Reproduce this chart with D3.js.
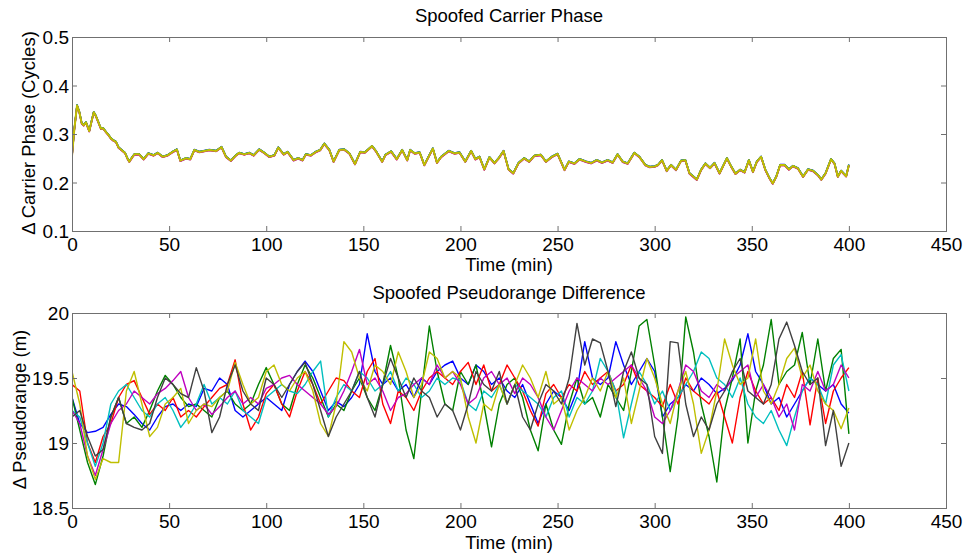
<!DOCTYPE html>
<html><head><meta charset="utf-8">
<script src="https://cdn.jsdelivr.net/npm/d3@7"></script>
<style>
html,body{margin:0;padding:0;background:#fff;}
svg text{font-family:"Liberation Sans",Arial,sans-serif;fill:#000;}
</style></head>
<body><svg id="chart" width="964" height="555"></svg>
<script>
// ---------- DATA ----------
const xTicks = [0,50,100,150,200,250,300,350,400,450];
const phaseTicks = [0.1,0.2,0.3,0.4,0.5];
const rangeTicks = [18.5,19,19.5,20];

const phaseTime = [0,1.2,2.6,3.8,5,6,7.2,8.9,10,11.2,12.2,13.2,14.9,16,17.5,18.8,20,21.2,22.6,24,25.2,27.3,28.5,29.5,31,32.1,34.6,36.9,39.3,42,44.1,46.7,49.2,51.8,54,55.8,58.7,60.9,63,65.6,68.2,70.7,74.2,77,79.3,81.8,84.4,86.1,88.7,91.3,93.5,96.4,99,101.6,104.2,106.2,109,111,114.1,116.5,118.7,120.4,123,125.5,127.8,129.9,132.5,134.7,137.6,140.2,142.8,145.7,148.4,150.8,154.5,156.6,159.7,161.4,164.3,167.2,170,172.6,174.1,176.4,179,181.4,184.1,185.8,187.9,190.1,194,196.9,199.5,202.5,205.5,207.7,209.8,212.3,214.9,217.5,219.7,222.2,224.8,227.2,229.9,232.8,235.4,238,241.4,244,247.1,250,253.6,255.8,258.7,261.3,264.7,267.3,270.2,272.9,275.8,278.4,280.9,283.5,286.1,289.5,292.1,295.2,297.4,300,301.7,303.8,306.2,308.4,311,313.6,315.8,317.9,321.7,323.9,326.1,328.5,330.8,333.4,337.2,339.4,341.6,344,346.3,348.5,350.6,352.6,354.8,357,359.1,360.8,362.6,364.6,366.9,369.1,371.2,373.8,376.4,379,381.5,384.1,385.8,388,390.8,392.6,394.3,396,398.6,400];
const phaseValue = [0.255,0.31,0.359,0.345,0.322,0.318,0.324,0.306,0.325,0.345,0.338,0.328,0.311,0.312,0.304,0.298,0.291,0.287,0.284,0.272,0.268,0.261,0.25,0.243,0.252,0.258,0.258,0.248,0.26,0.256,0.261,0.253,0.256,0.263,0.268,0.245,0.25,0.248,0.267,0.263,0.265,0.267,0.265,0.273,0.253,0.245,0.256,0.261,0.258,0.261,0.256,0.268,0.261,0.253,0.256,0.272,0.258,0.263,0.246,0.25,0.246,0.258,0.256,0.263,0.267,0.28,0.267,0.243,0.267,0.268,0.26,0.238,0.263,0.262,0.275,0.264,0.243,0.257,0.264,0.248,0.267,0.246,0.267,0.26,0.262,0.236,0.257,0.27,0.241,0.253,0.265,0.26,0.262,0.243,0.265,0.248,0.253,0.227,0.252,0.24,0.25,0.265,0.227,0.219,0.24,0.25,0.243,0.255,0.257,0.243,0.253,0.259,0.226,0.243,0.239,0.248,0.243,0.24,0.246,0.241,0.246,0.241,0.258,0.243,0.239,0.261,0.253,0.236,0.232,0.233,0.236,0.246,0.224,0.236,0.226,0.245,0.246,0.219,0.206,0.226,0.239,0.23,0.24,0.219,0.25,0.233,0.218,0.226,0.221,0.246,0.222,0.243,0.253,0.226,0.209,0.198,0.212,0.236,0.236,0.227,0.234,0.229,0.212,0.227,0.224,0.215,0.206,0.219,0.248,0.239,0.212,0.224,0.213,0.236];
// the six carrier-phase tracks overlap almost exactly; small per-track offsets (cycles)
const phaseSeriesNames = ["blue","green","red","cyan","magenta","yellow"];
const phaseOffset = [0.0008,0.0005,-0.0006,0.0003,-0.001,0];

// pseudorange difference, sampled every 4 min from 0 to 400
const rangeTime = d3.range(0,401,4);
const rangeBlue = [19.35,19.15,19.08,19.09,19.12,19.22,19.3,19.28,19.22,19.15,19.1,19.2,19.28,19.3,19.25,19.3,19.28,19.42,19.4,19.5,19.45,19.25,19.2,19.25,19.3,19.35,19.3,19.25,19.45,19.55,19.63,19.55,19.4,19.25,19.32,19.28,19.35,19.45,19.84,19.55,19.45,19.5,19.4,19.45,19.35,19.5,19.45,19.55,19.6,19.63,19.5,19.45,19.6,19.55,19.45,19.5,19.4,19.35,19.45,19.3,19.15,19.3,19.4,19.35,19.25,19.4,19.78,19.5,19.45,19.5,19.78,19.6,19.45,19.55,19.65,19.55,19.2,19.3,19.35,19.45,19.4,19.5,19.45,19.38,19.42,19.48,19.6,19.84,19.55,19.45,19.3,19.35,19.2,19.3,19.4,19.5,19.45,19.4,19.45,19.3,19.23];
const rangeGreen = [19.35,19.1,18.85,18.68,18.9,19.2,19.35,19.15,19.2,19.12,19.25,19.4,19.52,19.45,19.35,19.28,19.3,19.25,19.2,19.35,19.4,19.3,19.25,19.3,19.45,19.58,19.45,19.3,19.25,19.45,19.6,19.5,19.35,19.2,19.3,19.25,19.4,19.5,19.35,19.25,19.45,19.75,19.5,19.1,18.88,19.4,19.9,19.55,19.3,19.25,19.55,19.45,19.6,19.3,18.97,19.3,19.45,19.5,19.35,19.1,18.94,19.3,19.1,18.99,19.3,19.5,19.3,19.35,19.2,19.45,19.35,19.25,19.55,19.9,19.95,19.6,19.2,18.78,19.2,19.97,19.7,19.3,19.05,18.7,19.25,19.5,19.8,19.0,19.4,19.6,19.95,19.45,19.55,19.6,19.85,19.45,19.8,19.4,19.65,19.72,19.07];
const rangeRed = [19.45,19.4,19.0,18.85,19.05,19.15,19.35,19.45,19.48,19.35,19.22,19.3,19.25,19.35,19.2,19.25,19.2,19.28,19.35,19.42,19.45,19.64,19.3,19.1,19.2,19.38,19.45,19.3,19.2,19.4,19.55,19.45,19.3,19.4,19.5,19.48,19.4,19.35,19.55,19.65,19.3,19.15,19.4,19.35,19.25,19.4,19.5,19.55,19.5,19.45,19.55,19.62,19.45,19.6,19.4,19.45,19.6,19.5,19.4,19.25,19.13,19.38,19.45,19.35,19.45,19.4,19.55,19.45,19.5,19.55,19.4,19.45,19.6,19.45,19.4,19.35,19.28,19.45,19.3,19.5,19.4,19.35,19.3,19.4,19.2,19.0,19.35,19.55,19.4,19.3,19.35,19.25,19.45,19.35,19.55,19.14,19.5,19.15,19.4,19.5,19.58];
const rangeCyan = [19.25,19.2,19.0,18.82,19.0,19.3,19.4,19.45,19.35,19.25,19.2,19.3,19.35,19.25,19.12,19.2,19.3,19.45,19.3,19.35,19.3,19.4,19.25,19.2,19.15,19.35,19.4,19.45,19.4,19.38,19.45,19.55,19.63,19.2,19.35,19.45,19.4,19.55,19.5,19.4,19.45,19.55,19.4,19.5,19.45,19.35,19.4,19.5,19.45,19.5,19.48,19.3,19.25,19.4,19.35,19.45,19.3,19.45,19.4,19.35,19.3,19.2,19.35,19.4,19.2,19.35,19.3,19.4,19.65,19.55,19.4,19.04,19.3,19.55,19.45,19.3,19.4,19.25,19.35,19.45,19.55,19.7,19.65,19.5,19.45,19.35,19.5,19.3,19.2,19.15,19.25,19.1,18.98,19.2,19.4,19.5,19.45,19.3,19.6,19.68,19.4];
const rangeMagenta = [19.25,19.15,18.9,18.75,18.95,19.15,19.25,19.3,19.4,19.35,19.3,19.38,19.42,19.48,19.55,19.35,19.25,19.3,19.22,19.28,19.35,19.4,19.3,19.35,19.3,19.42,19.45,19.5,19.52,19.45,19.4,19.35,19.3,19.22,19.28,19.4,19.55,19.72,19.45,19.5,19.4,19.25,19.35,19.38,19.45,19.5,19.45,19.6,19.5,19.55,19.45,19.3,19.35,19.5,19.55,19.45,19.5,19.38,19.5,19.45,19.35,19.2,19.1,19.25,19.4,19.5,19.45,19.4,19.5,19.45,19.5,19.55,19.6,19.5,19.4,19.2,19.15,19.25,19.4,19.6,19.55,19.4,19.35,19.45,19.4,19.5,19.55,19.6,19.35,19.45,19.35,19.2,19.3,19.1,19.45,19.4,19.55,19.4,19.45,19.6,19.5];
const rangeYellow = [19.55,19.3,18.9,18.72,18.88,18.85,18.85,19.4,19.55,19.3,19.05,19.12,19.3,19.35,19.42,19.15,19.25,19.3,19.28,19.35,19.4,19.62,19.45,19.3,19.35,19.55,19.6,19.45,19.4,19.5,19.55,19.4,19.15,19.05,19.3,19.78,19.7,19.5,19.4,19.6,19.55,19.45,19.7,19.55,19.35,19.45,19.7,19.65,19.5,19.55,19.5,19.2,19.0,19.3,19.25,19.45,19.3,19.45,19.6,19.5,19.35,19.55,19.3,19.35,19.1,19.25,19.35,19.5,19.4,19.55,19.35,19.5,19.15,19.4,19.65,19.5,19.3,19.15,19.4,19.55,19.3,18.92,19.1,19.4,19.8,19.6,19.45,19.5,19.8,19.4,19.3,19.45,19.65,19.73,19.5,19.6,19.4,19.3,19.25,19.11,19.27];
const rangeGray = [19.2,19.25,19.05,18.9,18.95,19.2,19.35,19.15,19.12,19.1,19.15,19.35,19.5,19.45,19.38,19.35,19.58,19.4,19.08,19.2,19.45,19.6,19.4,19.3,19.25,19.5,19.45,19.35,19.45,19.55,19.62,19.45,19.25,19.05,19.2,19.3,19.4,19.55,19.35,19.2,19.45,19.65,19.5,19.35,19.5,19.4,19.35,19.2,19.3,19.25,19.1,19.3,19.55,19.45,19.4,19.55,19.3,19.45,19.2,19.1,19.3,19.45,19.4,19.3,19.5,19.92,19.6,19.8,19.77,19.55,19.28,19.55,19.7,19.5,19.45,19.05,18.92,19.78,19.77,19.3,19.05,19.2,19.1,19.3,19.4,19.55,19.65,19.4,19.35,19.3,19.45,19.8,19.93,19.75,19.55,19.45,19.5,18.98,19.25,18.82,19.0];
const rangeSeries = [
  {name:"blue", values:rangeBlue},
  {name:"green", values:rangeGreen},
  {name:"red", values:rangeRed},
  {name:"cyan", values:rangeCyan},
  {name:"magenta", values:rangeMagenta},
  {name:"yellow", values:rangeYellow},
  {name:"gray", values:rangeGray}
];
const colors = {blue:"#0000ff",green:"#008000",red:"#ff0000",cyan:"#00bfbf",magenta:"#bf00bf",yellow:"#bfbf00",gray:"#404040"};

// ---------- LAYOUT ----------
const svg = d3.select("#chart");
const left = 72, right = 946;
const panels = [
  {top:37, bottom:231, domain:[0.1,0.5], ticks:phaseTicks, fmt:d3.format(".1f"),
   title:"Spoofed Carrier Phase", titleY:21.5, ylabel:"\u0394 Carrier Phase (Cycles)", ylabelX:35,
   tickLabelY:251, xlabelY:271},
  {top:313, bottom:508, domain:[18.5,20], ticks:rangeTicks, fmt:d3.format("~g"),
   title:"Spoofed Pseudorange Difference", titleY:298.5, ylabel:"\u0394 Pseudorange (m)", ylabelX:26,
   tickLabelY:527.5, xlabelY:548.5}
];
const x = d3.scaleLinear().domain([0,450]).range([left,right]);
const axisColor = "#707070";

panels.forEach((p,i) => {
  const y = d3.scaleLinear().domain(p.domain).range([p.bottom,p.top]);
  const g = svg.append("g");
  const clipId = "clip"+i;
  svg.append("clipPath").attr("id",clipId).append("rect")
    .attr("x",left).attr("y",p.top).attr("width",right-left).attr("height",p.bottom-p.top);

  const lines = g.append("g").attr("clip-path",`url(#${clipId})`);
  if (i === 0) {
    const pts = phaseTime.map((t,j)=>[t,phaseValue[j]]);
    phaseSeriesNames.forEach((name,k) => {
      const line = d3.line().x(d=>x(d[0])).y(d=>y(d[1]+phaseOffset[k]));
      lines.append("path").attr("d",line(pts)).attr("fill","none")
        .attr("stroke",colors[name]).attr("stroke-width", name==="yellow"?2:1.6)
        .attr("stroke-linejoin","round");
    });
  } else {
    rangeSeries.forEach(s => {
      const line = d3.line().x((d,j)=>x(rangeTime[j])).y(d=>y(d));
      lines.append("path").attr("d",line(s.values)).attr("fill","none")
        .attr("stroke",colors[s.name]).attr("stroke-width",1.4)
        .attr("stroke-linejoin","round");
    });
  }

  const xb = g.append("g").attr("transform",`translate(0,${p.bottom})`)
    .call(d3.axisBottom(x).tickValues(xTicks).tickSize(-5).tickPadding(0).tickFormat(d3.format("d")));
  const xt = g.append("g").attr("transform",`translate(0,${p.top})`)
    .call(d3.axisTop(x).tickValues(xTicks).tickSize(-5).tickFormat(""));
  const yl = g.append("g").attr("transform",`translate(${left},0)`)
    .call(d3.axisLeft(y).tickValues(p.ticks).tickSize(-5).tickPadding(3).tickFormat(p.fmt));
  const yr = g.append("g").attr("transform",`translate(${right},0)`)
    .call(d3.axisRight(y).tickValues(p.ticks).tickSize(-5).tickFormat(""));
  [xb,xt,yl,yr].forEach(a => {
    a.select(".domain").remove();
    a.selectAll(".tick line").attr("stroke",axisColor).attr("stroke-width",1);
    a.selectAll("text").attr("font-size","19px").attr("font-family","Liberation Sans, Arial, sans-serif").attr("fill","#000");
  });
  xb.selectAll(".tick text").attr("y", p.tickLabelY - p.bottom).attr("dy",null);
  yl.selectAll(".tick text").attr("dy","0.36em");

  g.append("rect").attr("x",left+0.5).attr("y",p.top+0.5)
    .attr("width",right-left).attr("height",p.bottom-p.top)
    .attr("fill","none").attr("stroke",axisColor).attr("stroke-width",1);

  svg.append("text").attr("x",(left+right)/2).attr("y",p.titleY).attr("text-anchor","middle")
    .attr("font-size","18.5px").text(p.title);
  svg.append("text").attr("x",(left+right)/2).attr("y",p.xlabelY).attr("text-anchor","middle")
    .attr("font-size","18.5px").text("Time (min)");
  svg.append("text").attr("transform",`translate(${p.ylabelX},${(p.top+p.bottom)/2 - 1}) rotate(-90)`)
    .attr("text-anchor","middle").attr("font-size","18.5px").text(p.ylabel);
});
</script></body></html>
